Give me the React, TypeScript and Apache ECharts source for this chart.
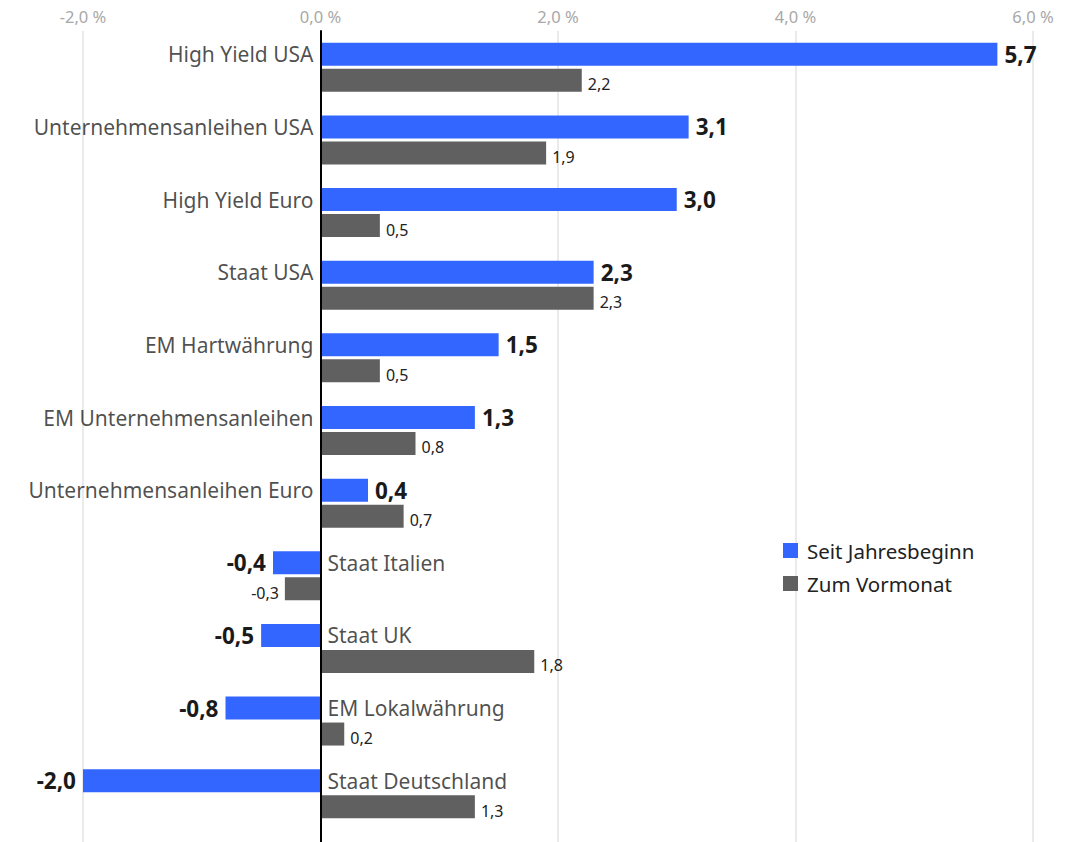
import React, { useEffect, useRef } from "react";
import * as echarts from "echarts";

const categories = [
  "High Yield USA",
  "Unternehmensanleihen USA",
  "High Yield Euro",
  "Staat USA",
  "EM Hartwährung",
  "EM Unternehmensanleihen",
  "Unternehmensanleihen Euro",
  "Staat Italien",
  "Staat UK",
  "EM Lokalwährung",
  "Staat Deutschland",
];
const seitJahresbeginn = [5.7, 3.1, 3.0, 2.3, 1.5, 1.3, 0.4, -0.4, -0.5, -0.8, -2.0];
const zumVormonat = [2.2, 1.9, 0.5, 2.3, 0.5, 0.8, 0.7, -0.3, 1.8, 0.2, 1.3];
const xTicks = { min: -2, max: 6, interval: 2 };
const seriesNames = ["Seit Jahresbeginn", "Zum Vormonat"];

const FONT = "'Noto Sans', 'Open Sans', sans-serif";
const BLUE = "#3366ff";
const GREY = "#606060";
const fmt = (v: number) => v.toFixed(1).replace(".", ",");

export default function App() {
  const ref = useRef<HTMLDivElement>(null);
  useEffect(() => {
    document.body.style.margin = "0";
    const chart = echarts.init(ref.current!, null, { renderer: "svg" });
    const gridLeft = 83;
    const gridWidth = 950;
    chart.setOption({
      animation: false,
      textStyle: { fontFamily: FONT },
      legend: {
        data: seriesNames,
        orient: "vertical",
        left: 778,
        top: 535,
        icon: "rect",
        itemWidth: 15,
        itemHeight: 15,
        itemGap: 12,
        textStyle: { fontSize: 20.5, color: "#222", fontFamily: FONT, padding: [0, 0, 0, 4] },
        selectedMode: false,
      },
      grid: [
        { left: gridLeft, width: gridWidth, top: 31, height: 799 },
        { left: gridLeft, width: gridWidth, top: 31, bottom: 0 },
      ],
      xAxis: [
        { type: "value", gridIndex: 0, ...xTicks, show: false },
        {
          type: "value",
          gridIndex: 1,
          ...xTicks,
          position: "top",
          axisLine: { show: false },
          axisTick: { show: false },
          axisLabel: {
            formatter: (v: number) => fmt(v) + " %",
            color: "#a8a8a8",
            fontSize: 16.5,
            margin: 6,
            fontFamily: FONT,
          },
          splitLine: { show: true, lineStyle: { color: "#e3e3e3", width: 1.5 } },
        },
      ],
      yAxis: [
        { type: "category", gridIndex: 0, data: categories, inverse: true, show: false },
        {
          type: "value",
          gridIndex: 1,
          min: 0,
          max: 1,
          axisLabel: { show: false },
          axisTick: { show: false },
          splitLine: { show: false },
          axisLine: { show: true, onZero: true, lineStyle: { color: "#000", width: 2 } },
          z: 5,
        },
      ],
      series: [
        {
          name: seriesNames[0],
          type: "bar",
          xAxisIndex: 0,
          yAxisIndex: 0,
          barWidth: 23,
          barGap: "13%",
          itemStyle: { color: BLUE },
          data: seitJahresbeginn.map((v) => ({
            value: v,
            label: {
              show: true,
              position: v >= 0 ? "right" : "left",
              distance: 7,
              formatter: () => fmt(v),
              fontSize: 22.5,
              fontWeight: "bold",
              color: "#1a1a1a",
              fontFamily: FONT,
            },
          })),
        },
        {
          name: seriesNames[1],
          type: "bar",
          xAxisIndex: 0,
          yAxisIndex: 0,
          barWidth: 23,
          barGap: "13%",
          itemStyle: { color: GREY },
          data: zumVormonat.map((v) => ({
            value: v,
            label: {
              show: true,
              position: v >= 0 ? "right" : "left",
              distance: 6,
              offset: [0, 4],
              formatter: () => fmt(v),
              fontSize: 16,
              color: "#222",
              fontFamily: FONT,
            },
          })),
        },
        {
          name: "labels",
          type: "scatter",
          xAxisIndex: 0,
          yAxisIndex: 0,
          symbolSize: 0,
          silent: true,
          itemStyle: { color: "transparent" },
          data: categories.map((c, i) => ({
            value: [0, i],
            label: {
              show: true,
              position: seitJahresbeginn[i] >= 0 ? "left" : "right",
              distance: 7,
              offset: [0, -13],
              formatter: () => c,
              fontSize: 21,
              color: "#1f1f1f",
              fontFamily: FONT,
            },
          })),
        },
      ],
    });
    return () => chart.dispose();
  }, []);
  return <div ref={ref} style={{ width: 1072, height: 842 }} />;
}
